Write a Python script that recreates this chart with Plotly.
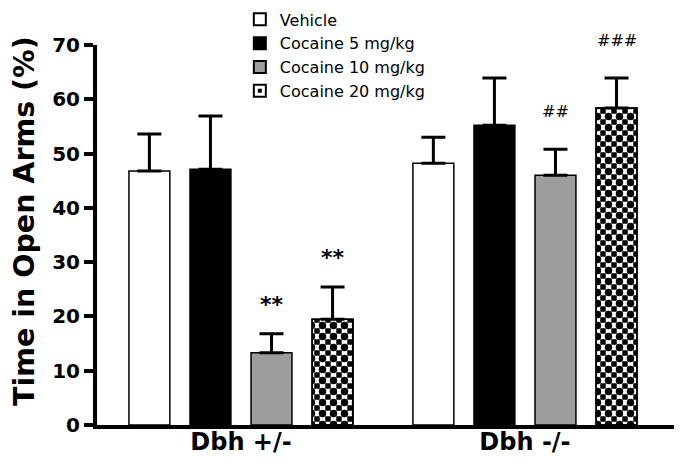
import plotly.graph_objects as go

groups = ["Dbh +/-", "Dbh -/-"]
series_names = ["Vehicle", "Cocaine 5 mg/kg", "Cocaine 10 mg/kg", "Cocaine 20 mg/kg"]
y_title = "Time in Open Arms (%)"

vehicle = [46.8, 48.2]
cocaine5 = [47.1, 55.2]
cocaine10 = [13.3, 46.0]
cocaine20 = [19.5, 58.4]

vehicle_sem = [6.8, 4.8]
cocaine5_sem = [9.8, 8.7]
cocaine10_sem = [3.5, 4.8]
cocaine20_sem = [5.9, 5.5]

cocaine10_sig = ["**", "##"]
cocaine20_sig = ["**", "###"]

FONT = "DejaVu Sans, Liberation Sans, Arial, sans-serif"
BARGAP = 0.14
BARGROUPGAP = 0.33
NSLOT = 4

fig = go.Figure()

def err(sem):
    return dict(type="data", symmetric=False, array=sem, arrayminus=[0] * len(sem),
                color="black", thickness=3, width=12)

line = dict(color="black", width=1.5)

fig.add_trace(go.Bar(name=series_names[0], x=groups, y=vehicle, offsetgroup="a",
                     marker=dict(color="white", line=line), error_y=err(vehicle_sem)))
fig.add_trace(go.Bar(name=series_names[1], x=groups, y=cocaine5, offsetgroup="b",
                     marker=dict(color="black", line=line), error_y=err(cocaine5_sem)))
fig.add_trace(go.Bar(name=series_names[2], x=groups, y=cocaine10, offsetgroup="c",
                     marker=dict(color="#9d9d9d", line=line), error_y=err(cocaine10_sem)))
# checkerboard: black squares at tile corners ("+" white on black) ...
fig.add_trace(go.Bar(name=series_names[3], x=groups, y=cocaine20, offsetgroup="d",
                     marker=dict(color="black", line=line,
                                 pattern=dict(shape="+", fgcolor="white", bgcolor="black",
                                              size=11, solidity=0.75, fillmode="replace"))))
# ... plus black dots at tile centres on top
fig.add_trace(go.Bar(name=series_names[3], x=groups, y=cocaine20, offsetgroup="d",
                     showlegend=False,
                     marker=dict(color="rgba(0,0,0,0)", line=line,
                                 pattern=dict(shape=".", fgcolor="black", bgcolor="rgba(0,0,0,0)",
                                              size=11, solidity=0.36, fillmode="replace")),
                     error_y=err(cocaine20_sem)))

slot = (1 - BARGAP) / NSLOT

def slot_center(k):
    return -(1 - BARGAP) / 2 + (k + 0.5) * slot

anns = []
for k, vals, sems, sigs in [(2, cocaine10, cocaine10_sem, cocaine10_sig),
                            (3, cocaine20, cocaine20_sem, cocaine20_sig)]:
    for i in range(len(groups)):
        star = sigs[i].startswith("*")
        anns.append(dict(
            x=i + slot_center(k), y=vals[i] + sems[i], xref="x", yref="y",
            text=sigs[i], showarrow=False, yanchor="bottom",
            yshift=15 if star else 26,
            font=dict(family=FONT, size=22 if star else 16, color="black",
                      weight="bold" if star else "normal")))

# y-axis title as rotated annotation (sits slightly above the plot centre)
anns.append(dict(x=-0.1235, y=0.537, xref="paper", yref="paper", text=y_title,
                 textangle=-90, showarrow=False, xanchor="center", yanchor="middle",
                 font=dict(family=FONT, size=28.5, color="black", weight="bold")))

fig.update_layout(
    width=682, height=474,
    margin=dict(l=89, r=10, t=37, b=57, autoexpand=False),
    plot_bgcolor="white", paper_bgcolor="white",
    barmode="group", bargap=BARGAP, bargroupgap=BARGROUPGAP,
    font=dict(family=FONT, color="black"),
    showlegend=True,
    legend=dict(x=0.245, y=1.112, xanchor="left", yanchor="top",
                bgcolor="rgba(0,0,0,0)", font=dict(family=FONT, size=16, color="black"),
                tracegroupgap=0, itemsizing="constant"),
    annotations=anns,
    xaxis=dict(type="category", range=[-0.507, 1.546], showline=True, linewidth=4,
               linecolor="black", ticks="", showgrid=False, ticklabelstandoff=-8,
               tickfont=dict(family=FONT, size=24, color="black", weight="bold")),
    yaxis=dict(range=[0, 70], dtick=10, showline=True, linewidth=4, linecolor="black",
               ticks="outside", ticklen=9, tickwidth=4, tickcolor="black",
               showgrid=False, zeroline=False,
               tickfont=dict(family=FONT, size=20, color="black", weight="bold")),
)

fig.write_html("out.html")
